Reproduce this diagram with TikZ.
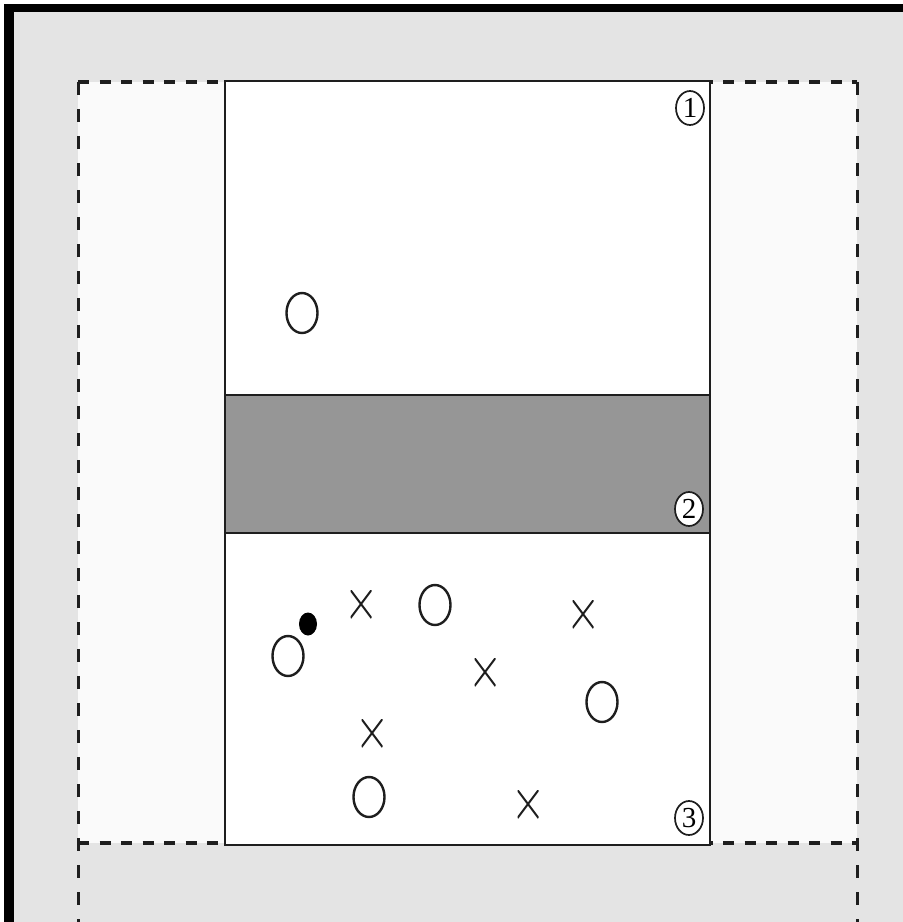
\documentclass[tikz,border=0pt]{standalone}
\usepackage{fontspec}
\setmainfont{Liberation Serif}
\usetikzlibrary{shapes.geometric}
\definecolor{pagegrey}{RGB}{228,228,228}
\definecolor{innerwhite}{RGB}{250,250,250}
\definecolor{zonegrey}{RGB}{150,150,150}
\definecolor{inkblack}{RGB}{30,30,30}
\tikzset{
  px/.style={x=1pt,y=-1pt},
  dashh/.style={draw=inkblack,line width=3.4pt,dash pattern=on 11pt off 10.5pt},
  dashv/.style={draw=inkblack,line width=3pt,dash pattern=on 13pt off 14pt},
  wall/.style={draw=inkblack,line width=2.4pt},
  ring/.style={draw=inkblack,line width=2.4pt,ellipse,minimum width=31pt,minimum height=40pt,inner sep=0pt},
  dot/.style={fill=black,ellipse,minimum width=18pt,minimum height=23pt,inner sep=0pt},
  cross/.style={inner sep=0pt,minimum width=21pt,minimum height=28pt,
    path picture={\draw[inkblack,line width=2pt]
      (path picture bounding box.north west)--(path picture bounding box.south east)
      (path picture bounding box.north east)--(path picture bounding box.south west);}},
  zonenum/.style={draw=inkblack,line width=1.7pt,ellipse,fill=white,minimum width=28pt,minimum height=34pt,inner sep=0pt,font=\fontsize{29}{29}\selectfont}
}
\begin{document}
\begin{tikzpicture}[px]
\useasboundingbox (0,0) rectangle (903,922);
% page background and scan edges
\fill[white] (0,0) rectangle (903,922);
\fill[pagegrey] (14,12) rectangle (903,922);
\fill[black] (4,4) rectangle (903,12);
\fill[black] (4,4) rectangle (14,922);
% area inside dashed frame
\fill[innerwhite] (78,82) rectangle (857,843);
% dashed frame
\coordinate (tl) at (78,82);
\coordinate (tr) at (857,82);
\coordinate (bl) at (78,843);
\coordinate (br) at (857,843);
\coordinate (lb) at (78,922);
\coordinate (rb) at (857,922);
\draw[dashh] (tl) -- (tr);
\draw[dashh] (bl) -- (br);
\draw[dashv] (tl) -- (lb);
\draw[dashv] (tr) -- (rb);
% main field with zones
\fill[white] (225,81) rectangle (710,845);
\fill[zonegrey] (225,395) rectangle (710,533);
\draw[wall] (225,395) -- (710,395);
\draw[wall] (225,533) -- (710,533);
\draw[wall] (225,81) rectangle (710,845);
% zone numbers
\node[zonenum] (z1) at (690,108) {1};
\node[zonenum] (z2) at (689,509) {2};
\node[zonenum] (z3) at (689,818) {3};
% zone 1
\node[ring] (o1) at (302,313) {};
% zone 3
\node[cross] (x1) at (361,604) {};
\node[ring] (o2) at (435,605) {};
\node[cross] (x2) at (583,614) {};
\node[dot] (d1) at (308,624) {};
\node[ring] (o3) at (288,656) {};
\node[cross] (x3) at (485,672) {};
\node[ring] (o4) at (602,702) {};
\node[cross] (x4) at (372,733) {};
\node[ring] (o5) at (369,797) {};
\node[cross] (x5) at (528,804) {};
\end{tikzpicture}
\end{document}
